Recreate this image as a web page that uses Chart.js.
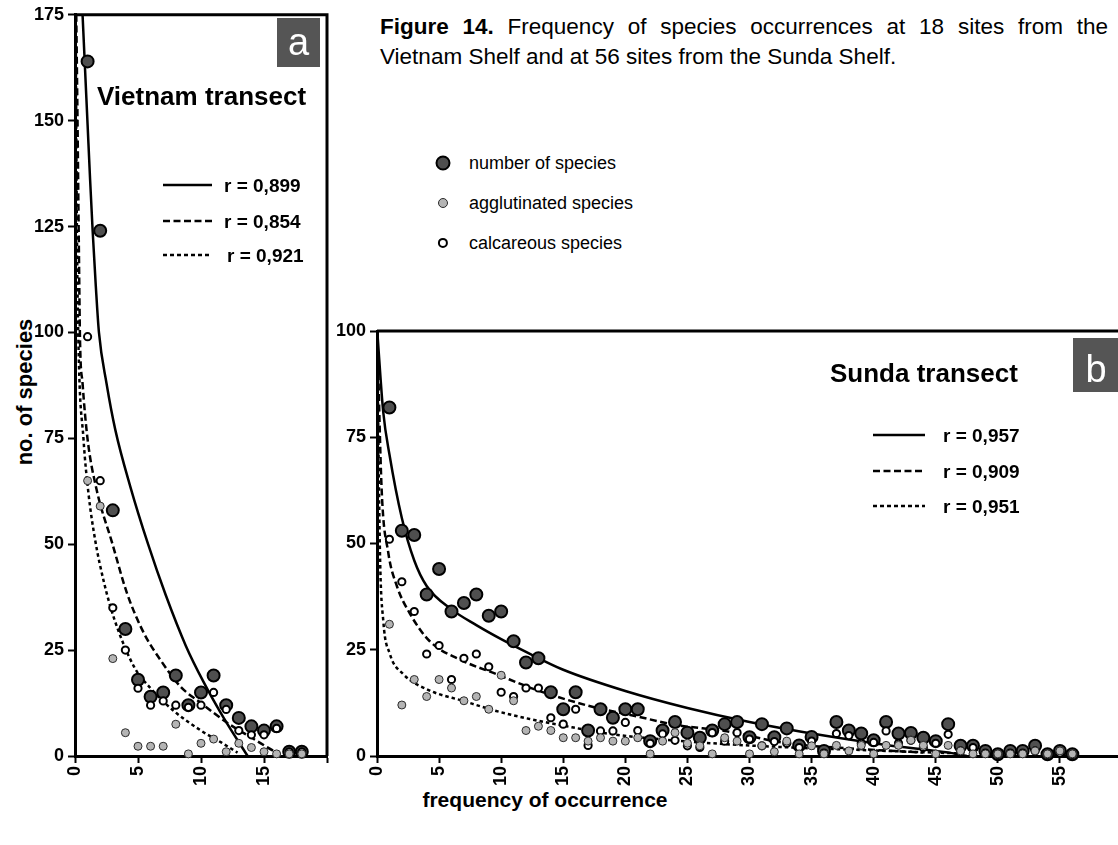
<!DOCTYPE html>
<html>
<head>
<meta charset="utf-8">
<title>Frequency of species occurrences</title>
<script src="https://cdn.jsdelivr.net/npm/chart.js@4.4.1/dist/chart.umd.min.js"></script>
<style>
  html, body { margin: 0; padding: 0; background: #fff; overflow: hidden; }
  body { position: relative; width: 1118px; height: 845px; font-family: "Liberation Sans", Arial, Helvetica, sans-serif; color: #000; }
  canvas { position: absolute; }
  #chartA { left: 0; top: 0; }
  #chartB { left: 330px; top: 300px; }
  #caption { position: absolute; left: 380px; top: 12px; width: 728px; font-size: 22.5px; line-height: 30px; }
  #caption .l1 { text-align: justify; text-align-last: justify; }
  #key { position: absolute; left: 434px; top: 151px; font-size: 18px; }
  #key div { position: relative; height: 40px; line-height: 24px; padding-left: 35px; white-space: nowrap; }
  #key i { position: absolute; top: 12px; left: 9px; border-radius: 50%; box-sizing: border-box; transform: translate(-50%, -50%); }
  #xTitle { position: absolute; left: 345px; width: 400px; top: 788px; text-align: center; font-weight: bold; font-size: 21px; }
  #yTitle { position: absolute; left: 25px; top: 392px; font-weight: bold; font-size: 22px; white-space: nowrap; transform: translate(-50%, -50%) rotate(-90deg); }
</style>
</head>
<body>
<div id="caption">
  <div class="l1"><b>Figure 14.</b> Frequency of species occurrences at 18 sites from the</div>
  <div>Vietnam Shelf and at 56 sites from the Sunda Shelf.</div>
</div>
<div id="key"></div>
<div id="yTitle">no. of species</div>
<div id="xTitle">frequency of occurrence</div>
<canvas id="chartA" width="340" height="845"></canvas>
<canvas id="chartB" width="800" height="545"></canvas>
<script>
// Vietnam Shelf, 18 sites
const vietnamFreq = [1, 2, 3, 4, 5, 6, 7, 8, 9, 10, 11, 12, 13, 14, 15, 16, 17, 18];
const vietnamTotal = [164, 124, 58, 30, 18, 14, 15, 19, 12, 15, 19, 12, 9, 7, 6, 7, 1, 1];
const vietnamAggl = [65, 59, 23, 5.5, 2.3, 2.3, 2.3, 7.5, 0.5, 3, 4, 1, 3, 2, 1, 0.5, 0.5, 0.5];
const vietnamCalc = [99, 65, 35, 25, 16, 12, 13, 12, 11.5, 12, 15, 11, 6, 5, 5, 6.5, 1, 1];

// fitted curves, traced as [frequency, species]
const vietnamFitTotal = [[0.6, 175], [0.8, 162], [1, 149], [1.2, 136], [1.4, 124], [1.65, 111], [1.9, 100], [2.5, 88],
  [3.2, 77], [4.4, 63.5], [5.8, 50], [7.2, 38], [8.8, 26], [10.2, 17.5], [11.8, 9], [13.7, 0]];
const vietnamFitCalc = [[0.1, 175], [0.2, 150], [0.3, 122], [0.4, 98], [0.6, 88], [0.99, 75], [1.73, 62.7], [2.93, 50.5],
  [4.13, 38.4], [5.47, 29], [6.8, 22.6], [8.4, 16.3], [10, 12.5], [12.1, 7.8], [14.3, 3.8], [15.9, 1], [16.3, 0.5]];
const vietnamFitAggl = [[0.05, 175], [0.15, 125], [0.27, 98], [0.67, 75], [1.07, 62], [1.6, 51], [2.3, 41], [3.1, 32.5],
  [4.7, 21], [6, 16], [7.9, 10.5], [10, 6], [11.6, 3.2], [12.9, 0.8]];
const vietnamR = ['r = 0,899', 'r = 0,854', 'r = 0,921'];

// Sunda Shelf, 56 sites
const sundaFreq = Array.from({ length: 56 }, (_, i) => i + 1);
const sundaTotal = [82, 53, 52, 38, 44, 34, 36, 38, 33, 34, 27, 22, 23, 15, 11, 15, 6, 11, 9, 11,
  11, 3.5, 6, 8, 5.5, 4.3, 6, 7.5, 8, 4.4, 7.5, 4.4, 6.5, 2.5, 4.5, 1.2, 8, 6, 5.3, 3.7,
  8, 5.3, 5.4, 4.3, 3.5, 7.5, 2.4, 2.4, 1.2, 0.4, 1.2, 1.2, 2.4, 0.4, 1.2, 0.4];
const sundaAggl = [31, 12, 18, 14, 18, 16, 13, 14, 11, 19, 13, 6, 7, 6, 4.3, 4.3, 3.5, 4.3, 3.5, 3.5,
  4.3, 0.5, 3.5, 5.5, 3, 2.4, 0.5, 4.3, 3.5, 0.5, 2.4, 1, 3.5, 0.5, 2.4, 0.5, 2.5, 1.2, 2.5, 0.5,
  2.5, 2.5, 3.7, 2.5, 0.5, 2.5, 1.2, 0.5, 0.5, 0.5, 0.5, 0.5, 1.2, 0.5, 1.2, 0.5];
const sundaCalc = [51, 41, 34, 24, 26, 18, 23, 24, 21, 15, 14, 16, 16, 9, 7.5, 11, 2.5, 5.9, 5.9, 7.9,
  6, 3, 5.2, 3.7, 2.4, 2, 5.5, 3.5, 5.5, 4, 2.4, 3.4, 3, 2, 3.5, 0.7, 5.3, 4.8, 3, 3.2,
  5.9, 3, 3.7, 2, 3, 5.1, 1.2, 2, 0.7, 0.4, 0.7, 0.7, 1.2, 0.4, 0.7, 0.4];

const sundaFitTotal = [[0.02, 100], [0.5, 81], [1, 71], [2, 56], [3, 46], [4, 40], [6, 34.5], [8, 30.8], [10, 27.5],
  [12, 24.5], [15, 20.3], [20, 15.3], [25, 11.3], [30, 8], [36, 4.8], [41, 2.6], [46, 0.8], [47.5, 0]];
const sundaFitCalc = [[0.02, 100], [0.37, 63], [0.9, 48], [1.6, 40], [2.65, 33.5], [4.25, 27], [6.9, 22.4], [9.6, 19.3],
  [12.3, 16.1], [15, 13.5], [17.6, 11.4], [20.5, 9.6], [24.3, 7.2], [28, 5.9], [33, 3], [38, 1.8], [44, 0.8]];
const sundaFitAggl = [[0.01, 100], [0.24, 47.6], [0.5, 32], [1.04, 24], [2.1, 19.3], [4.25, 15.4], [6.9, 13], [9.6, 10.6],
  [12.3, 8.7], [14.9, 7.2], [19, 5.1], [23, 3.9], [28, 2.8], [33.4, 2], [40, 1.3], [47, 0.6]];
const sundaR = ['r = 0,957', 'r = 0,909', 'r = 0,951'];

const keyLabels = ['number of species', 'agglutinated species', 'calcareous species'];

const FONT = '"Liberation Sans", Arial, Helvetica, sans-serif';
const tickFont = { family: FONT, size: 18, weight: 'bold' };
const DASHED = [7, 3.5];
const DOTTED = [3.5, 3];

const markTotal = { pointRadius: 6, pointBorderWidth: 2, pointBackgroundColor: '#4f4f4f', pointBorderColor: '#000', order: 2 };
const markCalc = { pointRadius: 3.6, pointBorderWidth: 2, pointBackgroundColor: '#fff', pointBorderColor: '#000', order: 1 };
const markAggl = { pointRadius: 4, pointBorderWidth: 1, pointBackgroundColor: '#b4b4b4', pointBorderColor: '#2a2a2a', order: 0 };

function pointSet(xs, ys, mark) {
  return Object.assign({
    data: xs.map((x, i) => ({ x: x, y: ys[i] })),
    showLine: false,
    clip: false
  }, mark);
}

function curveSet(trace, dash) {
  return {
    data: trace.map(p => ({ x: p[0], y: p[1] })),
    showLine: true,
    pointRadius: 0,
    borderColor: '#000',
    borderWidth: 2.5,
    borderDash: dash,
    cubicInterpolationMode: 'monotone',
    fill: false,
    order: 3
  };
}

// frame edges, panel letter, transect name and r legend
const panelDecor = {
  id: 'panelDecor',
  afterDraw(chart, args, o) {
    const ctx = chart.ctx, a = chart.chartArea;
    ctx.save();
    ctx.strokeStyle = '#000';
    ctx.lineWidth = 3;
    ctx.beginPath();
    ctx.moveTo(a.left, a.top);
    if (o.frameRight) {
      ctx.lineTo(a.right, a.top);
      ctx.lineTo(a.right, a.bottom);
    } else {
      ctx.lineTo(chart.width, a.top);
    }
    ctx.stroke();

    ctx.fillStyle = '#555';
    ctx.fillRect(o.box[0], o.box[1], o.box[2], o.box[3]);
    ctx.fillStyle = '#fff';
    ctx.font = '38px ' + FONT;
    ctx.textAlign = 'center';
    ctx.textBaseline = 'alphabetic';
    ctx.fillText(o.letter, o.letterAt[0], o.letterAt[1]);

    ctx.fillStyle = '#000';
    ctx.textAlign = 'left';
    ctx.font = 'bold 26px ' + FONT;
    ctx.fillText(o.title, o.titleAt[0], o.titleAt[1]);

    ctx.font = 'bold 19px ' + FONT;
    ctx.lineWidth = 2.5;
    o.keys.forEach((k, i) => {
      ctx.beginPath();
      ctx.setLineDash(k.dash);
      ctx.moveTo(o.keyLine[0], k.y);
      ctx.lineTo(o.keyLine[1], k.y);
      ctx.stroke();
      ctx.setLineDash([]);
      ctx.fillText(o.labels[i], k.tx, k.y + 7);
    });
    ctx.restore();
  }
};

function makeChart(id, cfg) {
  return new Chart(document.getElementById(id), {
    type: 'scatter',
    data: {
      datasets: [
        pointSet(cfg.freq, cfg.aggl, markAggl),
        pointSet(cfg.freq, cfg.calc, markCalc),
        pointSet(cfg.freq, cfg.total, markTotal),
        curveSet(cfg.fitTotal, []),
        curveSet(cfg.fitCalc, DASHED),
        curveSet(cfg.fitAggl, DOTTED)
      ]
    },
    options: {
      responsive: false,
      animation: false,
      events: [],
      layout: { padding: cfg.padding },
      plugins: {
        legend: { display: false },
        tooltip: { enabled: false },
        panelDecor: cfg.decor
      },
      scales: {
        x: {
          type: 'linear',
          min: 0,
          max: cfg.xMax,
          ticks: {
            stepSize: 5,
            autoSkip: false,
            minRotation: 90,
            maxRotation: 90,
            padding: 3,
            color: '#000',
            font: tickFont,
            callback: v => (v < cfg.xMax ? v : '')
          },
          grid: { drawOnChartArea: false, drawTicks: true, tickLength: 7, tickWidth: 2, tickColor: '#000' },
          border: { display: true, color: '#000', width: 3 },
          afterFit: s => {
            s.height = 89;
            // keep the rotated labels from shrinking the plot sideways
            s.paddingLeft = 0;
            s.paddingRight = 0;
          }
        },
        y: {
          min: 0,
          max: cfg.yMax,
          ticks: { stepSize: 25, padding: 4, color: '#000', font: tickFont },
          grid: { drawOnChartArea: false, drawTicks: true, tickLength: 7, tickWidth: 2, tickColor: '#000' },
          border: { display: true, color: '#000', width: 3 },
          afterFit: s => { s.width = cfg.yWidth; }
        }
      }
    },
    plugins: [panelDecor]
  });
}

makeChart('chartA', {
  freq: vietnamFreq, total: vietnamTotal, aggl: vietnamAggl, calc: vietnamCalc,
  fitTotal: vietnamFitTotal, fitCalc: vietnamFitCalc, fitAggl: vietnamFitAggl,
  xMax: 20, yMax: 175, yWidth: 75,
  padding: { top: 14, right: 13, left: 0, bottom: 0 },
  decor: {
    frameRight: true,
    box: [277, 18, 43, 49], letter: 'a', letterAt: [298.5, 55],
    title: 'Vietnam transect', titleAt: [97, 105],
    keyLine: [163, 212], labels: vietnamR,
    keys: [{ y: 185, dash: [], tx: 224 }, { y: 221, dash: DASHED, tx: 224 }, { y: 255, dash: [4, 3], tx: 227 }]
  }
});

makeChart('chartB', {
  freq: sundaFreq, total: sundaTotal, aggl: sundaAggl, calc: sundaCalc,
  fitTotal: sundaFitTotal, fitCalc: sundaFitCalc, fitAggl: sundaFitAggl,
  xMax: 60, yMax: 100, yWidth: 47,
  padding: { top: 31, right: 5, left: 0, bottom: 0 },
  decor: {
    frameRight: false,
    box: [743, 38, 47, 54], letter: 'b', letterAt: [766, 82],
    title: 'Sunda transect', titleAt: [500, 82],
    keyLine: [543, 595], labels: sundaR,
    keys: [{ y: 135, dash: [], tx: 613 }, { y: 171, dash: DASHED, tx: 613 }, { y: 206, dash: [4, 3], tx: 613 }]
  }
});

// symbol key for the three point series
const keyMarks = [markTotal, markAggl, markCalc];
const key = document.getElementById('key');
keyLabels.forEach((label, i) => {
  const m = keyMarks[i];
  const row = document.createElement('div');
  const dot = document.createElement('i');
  const d = 2 * (m.pointRadius + m.pointBorderWidth / 2) + 1;
  dot.style.width = d + 'px';
  dot.style.height = d + 'px';
  dot.style.background = m.pointBackgroundColor;
  dot.style.border = m.pointBorderWidth + 'px solid ' + m.pointBorderColor;
  row.appendChild(dot);
  row.appendChild(document.createTextNode(label));
  key.appendChild(row);
});
</script>
</body>
</html>
